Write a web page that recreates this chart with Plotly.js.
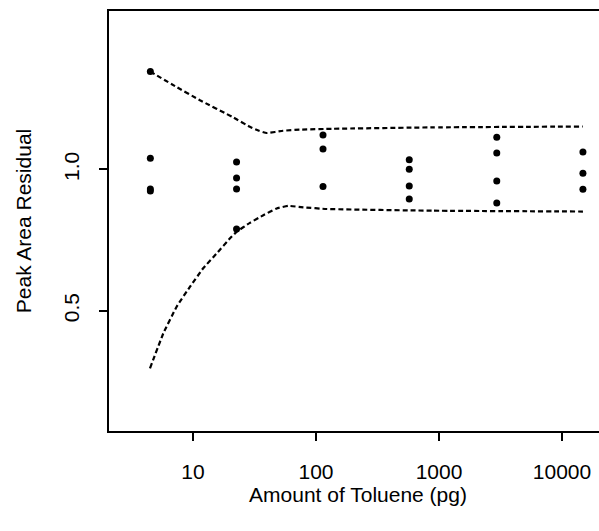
<!DOCTYPE html>
<html>
<head>
<meta charset="utf-8">
<script src="https://cdn.plot.ly/plotly-3.0.1.min.js"></script>
<style>
html, body { margin: 0; padding: 0; background: #ffffff; overflow: hidden; }
#chart { width: 620px; height: 531px; }
</style>
</head>
<body>
<div id="chart"></div>
<script>
// Amount of toluene (pg) for each replicate measurement
const pointAmounts = [
  4.5, 4.5, 4.5, 4.5,
  22.6, 22.6, 22.6, 22.6,
  114, 114, 114,
  573, 573, 573, 573,
  2950, 2950, 2950, 2950,
  14800, 14800, 14800
];
// Peak area residuals
const pointResiduals = [
  1.347, 1.040, 0.931, 0.924,
  1.026, 0.970, 0.931, 0.789,
  1.122, 1.072, 0.940,
  1.034, 1.001, 0.941, 0.895,
  1.114, 1.058, 0.959, 0.881,
  1.062, 0.987, 0.930
];
// Upper limit curve
const upperX = [4.47, 7.14, 11.4, 21.1, 29.0, 34.4, 39.7, 54, 74, 138, 891, 14800];
const upperY = [1.347, 1.295, 1.245, 1.185, 1.151, 1.137, 1.129, 1.137, 1.141, 1.144, 1.149, 1.152];
// Lower limit curve
const lowerX = [4.47, 5.74, 7.36, 9.46, 12.1, 15.6, 20.0, 22.6, 29.0, 37.3, 47.9, 59.6, 78.9, 122, 891, 14800];
const lowerY = [0.296, 0.420, 0.514, 0.585, 0.650, 0.703, 0.756, 0.779, 0.811, 0.838, 0.862, 0.871, 0.866, 0.860, 0.854, 0.851];
// Axis ticks
const xTickVals = [10, 100, 1000, 10000];
const xTickText = ['10', '100', '1000', '10000'];
const yTickVals = [0.5, 1.0];
const yTickText = ['0.5', '1.0'];

const font = { family: 'Liberation Sans, Arial, Helvetica, sans-serif', size: 21, color: '#000000' };
const curveLine = { color: '#000000', width: 2.2, dash: '5px,3px', shape: 'spline', smoothing: 0.3 };

const traces = [
  { x: upperX, y: upperY, mode: 'lines', line: curveLine, hoverinfo: 'skip', showlegend: false },
  { x: lowerX, y: lowerY, mode: 'lines', line: curveLine, hoverinfo: 'skip', showlegend: false },
  { x: pointAmounts, y: pointResiduals, mode: 'markers',
    marker: { color: '#000000', size: 7 }, showlegend: false }
];

const layout = {
  width: 620, height: 531,
  margin: { l: 109, r: 13, t: 11, b: 100 },
  paper_bgcolor: '#ffffff', plot_bgcolor: '#ffffff',
  font: font,
  showlegend: false,
  xaxis: {
    type: 'log', range: [0.317, 4.366],
    tickvals: xTickVals, ticktext: xTickText,
    ticks: 'outside', ticklen: 8, tickwidth: 2, tickcolor: '#000000',
    showline: true, linewidth: 2, linecolor: '#000000', mirror: true,
    showgrid: false, zeroline: false,
    ticklabelstandoff: 13,
    tickfont: font,
    title: { text: 'Amount of Toluene (pg)', font: font, standoff: 5 }
  },
  yaxis: {
    range: [0.074, 1.561],
    tickvals: yTickVals, ticktext: yTickText,
    tickangle: -90,
    ticks: 'outside', ticklen: 8, tickwidth: 2, tickcolor: '#000000',
    showline: true, linewidth: 2, linecolor: '#000000', mirror: true,
    showgrid: false, zeroline: false,
    ticklabelstandoff: 12,
    tickfont: font,
    title: { text: 'Peak Area Residual', font: font, standoff: 22 }
  }
};

Plotly.newPlot('chart', traces, layout, { displayModeBar: false, staticPlot: true });
</script>
</body>
</html>
